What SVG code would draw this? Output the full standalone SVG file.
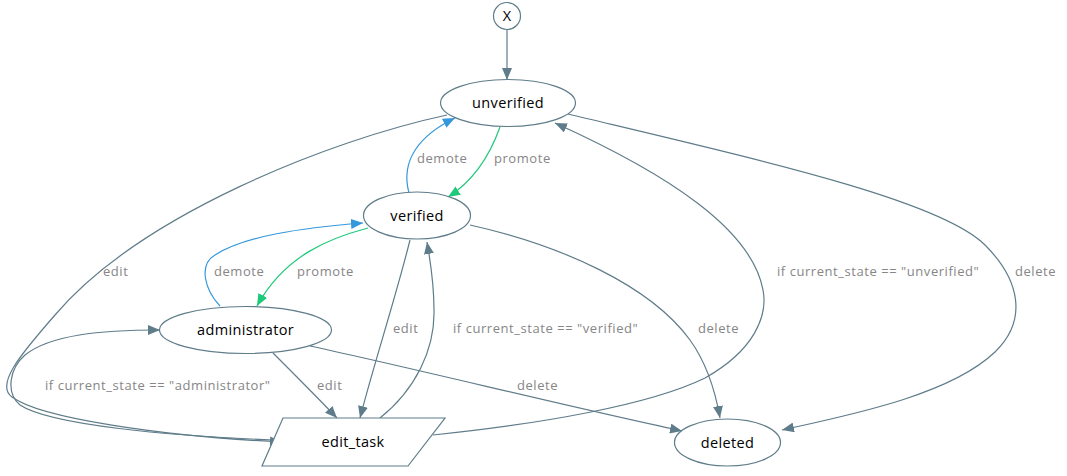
<svg xmlns="http://www.w3.org/2000/svg" width="1067" height="476" viewBox="0 0 1067 476">
<defs>
<style>
.n{fill:#fff;stroke:#5f7c8a;stroke-width:1.2}
.nt{font-family:"Open Sans","DejaVu Sans",sans-serif;font-size:14.5px;letter-spacing:0.35px;fill:#000;text-anchor:middle}
.e{fill:none;stroke:#5f7c8a;stroke-width:1.2}
.b{stroke:#3498db}
.g{stroke:#1fc97a}
.l{font-family:"Open Sans","DejaVu Sans",sans-serif;font-size:13px;letter-spacing:0.55px;fill:#868686}
</style>
<marker id="ag" viewBox="0 0 12 10" refX="12" refY="5" markerWidth="12" markerHeight="10" markerUnits="userSpaceOnUse" orient="auto"><path d="M0,0 L12,5 L0,10 z" fill="#5f7c8a"/></marker>
<marker id="ab" viewBox="0 0 12 10" refX="12" refY="5" markerWidth="12" markerHeight="10" markerUnits="userSpaceOnUse" orient="auto"><path d="M0,0 L12,5 L0,10 z" fill="#3498db"/></marker>
<marker id="agr" viewBox="0 0 12 10" refX="12" refY="5" markerWidth="12" markerHeight="10" markerUnits="userSpaceOnUse" orient="auto"><path d="M0,0 L12,5 L0,10 z" fill="#1fc97a"/></marker>
</defs>
<rect width="1067" height="476" fill="#fff"/>
<g id="connectors">
<path class="e" d="M507,30 L507,80" marker-end="url(#ag)"/>
<path class="e g" d="M500,127 C490,155 475,180 448,197" marker-end="url(#agr)"/>
<path class="e b" d="M409,193 C400,160 420,135 455,118" marker-end="url(#ab)"/>
<path class="e g" d="M368,228 C330,238 285,255 257,306" marker-end="url(#agr)"/>
<path class="e b" d="M220,306 C205,290 198,265 215,255 C245,236 300,228 363,223" marker-end="url(#ab)"/>
<path class="e" d="M447,115 C330,140 140,215 55,315 C20,355 -5,385 12,397 C40,418 160,436 282,442" marker-end="url(#ag)"/>
<path class="e" d="M274,440 C170,436 50,425 20,405 C5,392 10,368 25,355 C50,335 100,330 160,330" marker-end="url(#ag)"/>
<path class="e" d="M273,353 C290,370 315,395 337,418" marker-end="url(#ag)"/>
<path class="e" d="M410,240 C395,300 375,360 360,418" marker-end="url(#ag)"/>
<path class="e" d="M380,418 C415,390 435,350 434,310 C434,280 430,260 427,242" marker-end="url(#ag)"/>
<path class="e" d="M310,346 C430,372 560,405 682,431" marker-end="url(#ag)"/>
<path class="e" d="M470,225 C560,245 650,285 690,340 C708,365 716,395 720,418" marker-end="url(#ag)"/>
<path class="e" d="M433,435 C540,424 650,405 705,378 C755,350 768,315 763,290 C752,230 670,175 555,123" marker-end="url(#ag)"/>
<path class="e" d="M568,114 C760,160 940,200 985,245 C1020,280 1028,320 995,352 C950,395 850,415 782,430" marker-end="url(#ag)"/>
<text class="l" x="494" y="163">promote</text>
<text class="l" x="417" y="163">demote</text>
<text class="l" x="103" y="276">edit</text>
<text class="l" x="214" y="276">demote</text>
<text class="l" x="297" y="276">promote</text>
<text class="l" x="777" y="276">if current_state == "unverified"</text>
<text class="l" x="1015" y="276">delete</text>
<text class="l" x="393" y="333">edit</text>
<text class="l" x="453" y="333">if current_state == "verified"</text>
<text class="l" x="698" y="333">delete</text>
<text class="l" x="45" y="390">if current_state == "administrator"</text>
<text class="l" x="317" y="390">edit</text>
<text class="l" x="517" y="390">delete</text>
</g>
<g id="start"><circle class="n" cx="507" cy="16" r="13.5"/><text class="nt" x="507" y="21">X</text></g>
<g id="unverified"><ellipse class="n" cx="508" cy="103" rx="67.5" ry="23.5"/><text class="nt" x="508" y="108">unverified</text></g>
<g id="verified"><ellipse class="n" cx="417" cy="215.5" rx="53.5" ry="23.5"/><text class="nt" x="417" y="220.5">verified</text></g>
<g id="administrator"><ellipse class="n" cx="245.5" cy="330" rx="86" ry="23.5"/><text class="nt" x="245.5" y="335">administrator</text></g>
<g id="edit_task"><polygon class="n" points="283,418 445,418 408,466 262,466"/><text class="nt" x="353" y="447">edit_task</text></g>
<g id="deleted"><ellipse class="n" cx="727.5" cy="442.5" rx="53" ry="23.5" stroke-width="2.8"/><text class="nt" x="727.5" y="447.5">deleted</text></g>
</svg>
